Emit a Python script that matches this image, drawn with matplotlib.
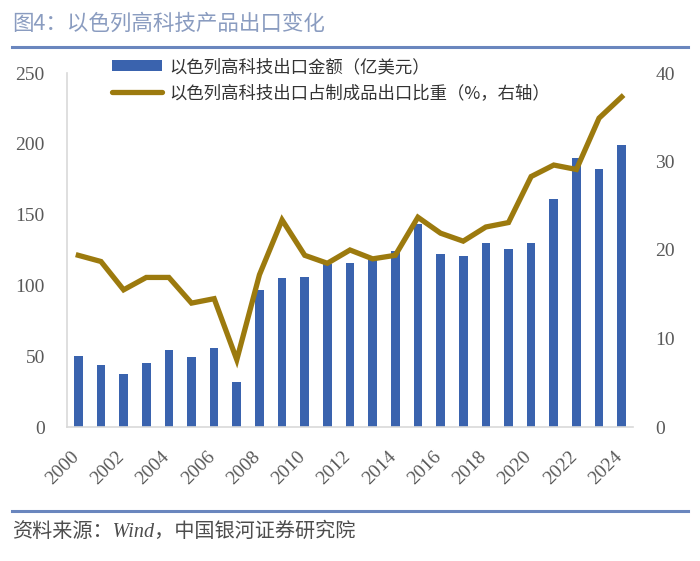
import matplotlib
matplotlib.use("Agg")
import matplotlib.pyplot as plt
import matplotlib.transforms as mtransforms
from matplotlib.lines import Line2D
from matplotlib.patches import Patch

years = list(range(2000, 2025))
export_value = [50, 44, 37.5, 45.5, 54.5, 49.5, 56, 31.5, 96.5, 105.5, 106, 115,
                116, 118, 124, 143.5, 122, 120.5, 130, 125.5, 130, 161, 190, 182, 199]
export_share = [19.4, 18.7, 15.5, 16.9, 16.9, 14.0, 14.5, 7.6, 17.2, 23.4, 19.4, 18.5,
                20.0, 19.0, 19.4, 23.7, 21.9, 21.0, 22.6, 23.1, 28.3, 29.6, 29.1, 34.9, 37.3]
left_ticks = [0, 50, 100, 150, 200, 250]
right_ticks = [0, 10, 20, 30, 40]
label_years = list(range(2000, 2025, 2))

title = "图4：以色列高科技产品出口变化"
bar_label = "以色列高科技出口金额（亿美元）"
line_label = "以色列高科技出口占制成品出口比重（%，右轴）"
source = "资料来源：Wind，中国银河证券研究院"

cjk = ['Noto Sans CJK SC', 'DejaVu Sans']
num_font = ['Liberation Serif', 'DejaVu Serif']
bar_color = '#3A63AE'
line_color = '#9C7A0E'
tick_color = '#595959'
rule_color = '#6A86BE'

fig = plt.figure(figsize=(7.0, 5.61), dpi=100)
ax = fig.add_axes([67/700, 1-427/561, (633-67)/700, (427-73)/561])
ax2 = ax.twinx()

ax.bar(years, export_value, width=0.38, color=bar_color, zorder=2)
ax2.plot(years, export_share, color=line_color, lw=3.8, solid_joinstyle='miter', zorder=3)

ax.set_xlim(years[0]-0.5, years[-1]+0.5)
ax.set_ylim(0, 250)
ax2.set_ylim(0, 40)
ax.set_yticks(left_ticks)
ax2.set_yticks(right_ticks)
ax.set_yticklabels([str(v) for v in left_ticks], family=num_font, fontsize=14, color=tick_color)
ax2.set_yticklabels([str(v) for v in right_ticks], family=num_font, fontsize=14, color=tick_color)
ax.tick_params(axis='y', length=0, pad=16)
ax2.tick_params(axis='y', length=0, pad=16)

ax.set_xticks(label_years)
ax.set_xticklabels([str(y) for y in label_years], family=num_font, fontsize=14,
                   color=tick_color, rotation=45, ha='right', va='top')
ax.tick_params(axis='x', length=0, pad=15)
offset = mtransforms.ScaledTranslation(4/100, 0, fig.dpi_scale_trans)
for lab in ax.get_xticklabels():
    lab.set_transform(lab.get_transform() + offset)

for a in (ax, ax2):
    for s in ['top', 'right']:
        a.spines[s].set_visible(False)
ax2.spines['left'].set_visible(False)
ax2.spines['bottom'].set_visible(False)
ax.spines['left'].set_color('#D9D9D9')
ax.spines['bottom'].set_color('#D9D9D9')
ax.spines['left'].set_linewidth(1.2)
ax.spines['bottom'].set_linewidth(1.2)

handles = [Patch(facecolor=bar_color, edgecolor='none'),
           Line2D([0], [0], color=line_color, lw=3.8, solid_capstyle='round')]
leg = ax2.legend(handles, [bar_label, line_label], loc='upper left',
                 bbox_to_anchor=(112/700, 1-58/561), bbox_transform=fig.transFigure,
                 frameon=False, prop={'family': cjk, 'size': 12.5},
                 handlelength=2.9, handleheight=0.6, handletextpad=0.4, labelspacing=0.45,
                 borderaxespad=0, borderpad=0)
for t in leg.get_texts():
    t.set_color('#333333')

fig.text(12/700, 1-24/561, title, family=cjk, fontsize=15.5, color='#8A9CC0', va='center', ha='left')
fig.add_artist(Line2D([12/700, 688/700], [1-47/561, 1-47/561], color=rule_color, lw=2.2,
                      transform=fig.transFigure))
fig.add_artist(Line2D([12/700, 688/700], [1-511/561, 1-511/561], color=rule_color, lw=2.2,
                      transform=fig.transFigure))
fig.text(12/700, 1-532/561, source, family=['Liberation Serif', 'Noto Sans CJK SC', 'DejaVu Sans'],
         fontsize=14.5, color='#4D4D4D', style='italic', va='center', ha='left')

fig.savefig('out.png', dpi=100)
